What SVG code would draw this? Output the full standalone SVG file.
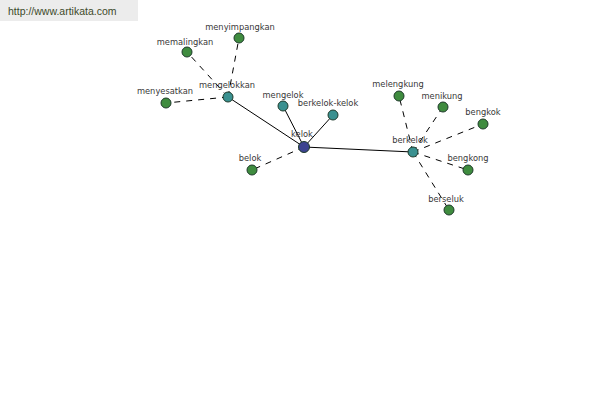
<svg xmlns="http://www.w3.org/2000/svg" width="600" height="400" viewBox="0 0 600 400">
<style>
.solid{stroke:#000;stroke-width:1;fill:none}
.dash{stroke:#000;stroke-width:1;fill:none;stroke-dasharray:6,6}
.n{stroke:#1e3a2a;stroke-width:1}
.root{fill:#3c4390}
.mid{fill:#3a9190}
.leaf{fill:#3f8c3f}
text{font-family:"DejaVu Sans",Verdana,sans-serif;font-size:8.3px;fill:#383838;text-anchor:middle}
</style>
<rect width="600" height="400" fill="#fff"/>
<g id="header">
<rect x="0" y="0" width="138" height="21" fill="#ececec"/>
<text x="8" y="15" style="text-anchor:start;font-family:'Liberation Sans',Arial,sans-serif;font-size:10.5px;fill:#3d4a2a">http://www.artikata.com</text>
</g>
<g id="connectors">
<line class="solid" x1="304" y1="147" x2="228" y2="97"/>
<line class="solid" x1="304" y1="147" x2="283" y2="106"/>
<line class="solid" x1="304" y1="147" x2="333" y2="115"/>
<line class="solid" x1="304" y1="147" x2="413" y2="152"/>
<line class="dash" x1="304" y1="147" x2="252" y2="170"/>
<line class="dash" x1="228" y1="97" x2="166" y2="103"/>
<line class="dash" x1="228" y1="97" x2="187" y2="52"/>
<line class="dash" x1="228" y1="97" x2="239" y2="38"/>
<line class="dash" x1="413" y1="152" x2="399" y2="96"/>
<line class="dash" x1="413" y1="152" x2="443" y2="107"/>
<line class="dash" x1="413" y1="152" x2="483" y2="124"/>
<line class="dash" x1="413" y1="152" x2="468" y2="170"/>
<line class="dash" x1="413" y1="152" x2="449" y2="210"/>
</g>
<g id="kelok"><circle class="n root" cx="304" cy="147" r="5.5"/><text x="302" y="137">kelok</text></g>
<g id="mengelokkan"><circle class="n mid" cx="228" cy="97" r="5"/><text x="227" y="88">mengelokkan</text></g>
<g id="mengelok"><circle class="n mid" cx="283" cy="106" r="5"/><text x="283" y="98">mengelok</text></g>
<g id="berkelok-kelok"><circle class="n mid" cx="333" cy="115" r="5"/><text x="328" y="106">berkelok-kelok</text></g>
<g id="berkelok"><circle class="n mid" cx="413" cy="152" r="5"/><text x="410" y="143">berkelok</text></g>
<g id="belok"><circle class="n leaf" cx="252" cy="170" r="5"/><text x="250" y="161">belok</text></g>
<g id="menyesatkan"><circle class="n leaf" cx="166" cy="103" r="5"/><text x="165" y="94">menyesatkan</text></g>
<g id="memalingkan"><circle class="n leaf" cx="187" cy="52" r="5"/><text x="185" y="45">memalingkan</text></g>
<g id="menyimpangkan"><circle class="n leaf" cx="239" cy="38" r="5"/><text x="240" y="30">menyimpangkan</text></g>
<g id="melengkung"><circle class="n leaf" cx="399" cy="96" r="5"/><text x="398" y="87">melengkung</text></g>
<g id="menikung"><circle class="n leaf" cx="443" cy="107" r="5"/><text x="442" y="99">menikung</text></g>
<g id="bengkok"><circle class="n leaf" cx="483" cy="124" r="5"/><text x="483" y="115">bengkok</text></g>
<g id="bengkong"><circle class="n leaf" cx="468" cy="170" r="5"/><text x="468" y="161">bengkong</text></g>
<g id="berseluk"><circle class="n leaf" cx="449" cy="210" r="5"/><text x="446" y="202">berseluk</text></g>
</svg>
